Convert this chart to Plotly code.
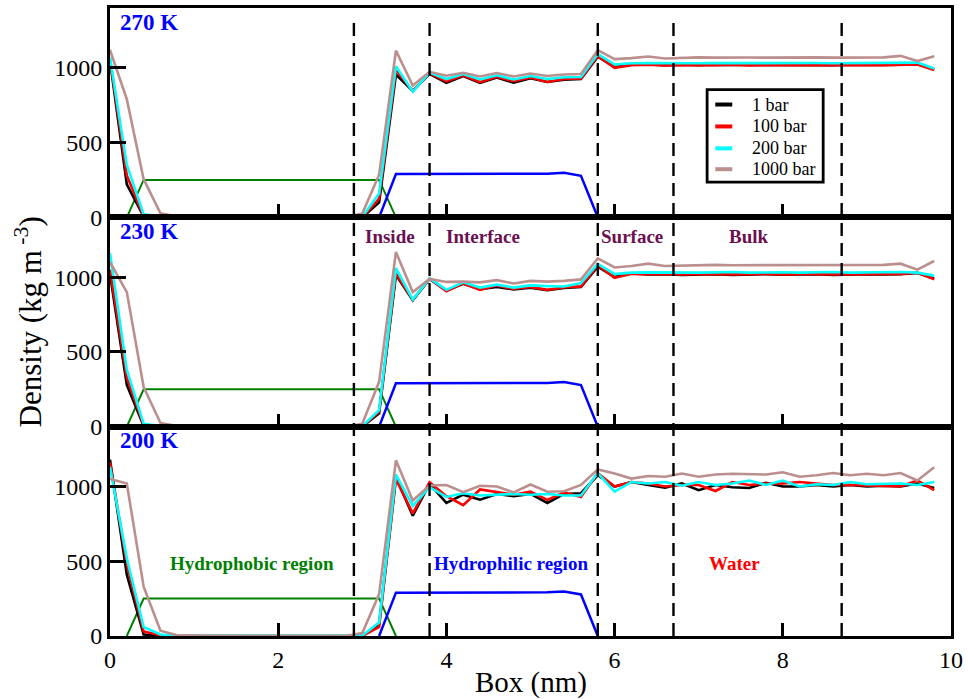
import plotly.graph_objects as go
from plotly.subplots import make_subplots

# ---------------- data ----------------
box_x = [0.0, 0.2, 0.4, 0.6, 0.8, 1.0, 1.2, 1.4, 1.6, 1.8,
         2.0, 2.2, 2.4, 2.6, 2.8, 3.0, 3.2, 3.4, 3.6, 3.8,
         4.0, 4.2, 4.4, 4.6, 4.8, 5.0, 5.2, 5.4, 5.6, 5.8,
         6.0, 6.2, 6.4, 6.6, 6.8, 7.0, 7.2, 7.4, 7.6, 7.8,
         8.0, 8.2, 8.4, 8.6, 8.8, 9.0, 9.2, 9.4, 9.6, 9.8]

pressures = ["1 bar", "100 bar", "200 bar", "1000 bar"]
temps = ["270 K", "230 K", "200 K"]

# 270 K
d270_1 = [1050, 220, 5, 0, 0, 0, 0, 0, 0, 0,
          0, 0, 0, 0, 0, 0, 100, 955, 845, 960,
          900, 945, 900, 935, 900, 930, 905, 920, 925, 1075,
          1005, 1020, 1022, 1018, 1020, 1017, 1020, 1019, 1018, 1020,
          1018, 1020, 1019, 1017, 1020, 1018, 1019, 1020, 1025, 990]
d270_100 = [1060, 280, 8, 0, 0, 0, 0, 0, 0, 0,
            0, 0, 0, 0, 0, 0, 125, 985, 845, 965,
            910, 950, 905, 940, 910, 935, 905, 925, 928, 1080,
            1000, 1018, 1020, 1015, 1018, 1016, 1018, 1020, 1016, 1018,
            1017, 1019, 1018, 1016, 1018, 1017, 1018, 1020, 1022, 985]
d270_200 = [1070, 350, 20, 5, 0, 0, 0, 0, 0, 0,
            0, 0, 0, 0, 0, 3, 160, 1010, 840, 968,
            925, 958, 922, 950, 922, 945, 925, 937, 938, 1092,
            1022, 1030, 1032, 1030, 1031, 1030, 1031, 1032, 1030, 1031,
            1030, 1031, 1032, 1030, 1031, 1030, 1031, 1032, 1035, 995]
d270_1000 = [1120, 790, 255, 27, 5, 0, 0, 0, 0, 0,
             0, 0, 0, 0, 0, 25, 285, 1115, 882, 973,
             947, 967, 942, 965, 942, 962, 945, 955, 958, 1118,
             1058, 1065, 1076, 1062, 1068, 1070, 1068, 1070, 1069, 1068,
             1070, 1069, 1070, 1068, 1070, 1069, 1070, 1080, 1045, 1078]

# 230 K
d230_1 = [1020, 280, 5, 0, 0, 0, 0, 0, 0, 0,
          0, 0, 0, 0, 0, 0, 90, 1015, 845, 988,
          910, 955, 920, 935, 918, 930, 912, 928, 935, 1070,
          1000, 1025, 1018, 1020, 1015, 1018, 1020, 1015, 1018, 1020,
          1016, 1018, 1020, 1015, 1018, 1020, 1018, 1020, 1028, 990]
d230_100 = [1050, 330, 10, 0, 0, 0, 0, 0, 0, 0,
            0, 0, 0, 0, 0, 0, 100, 1025, 848, 990,
            905, 958, 915, 945, 922, 935, 915, 932, 938, 1080,
            995, 1022, 1020, 1022, 1018, 1020, 1022, 1018, 1020, 1022,
            1018, 1020, 1022, 1018, 1020, 1022, 1020, 1022, 1030, 985]
d230_200 = [1160, 380, 20, 5, 0, 0, 0, 0, 0, 0,
            0, 0, 0, 0, 0, 3, 110, 1060, 850, 992,
            915, 965, 930, 950, 930, 945, 940, 937, 960, 1088,
            1020, 1030, 1032, 1030, 1033, 1030, 1032, 1034, 1030, 1032,
            1033, 1030, 1032, 1034, 1030, 1032, 1030, 1034, 1030, 1010]
d230_1000 = [1100, 900, 265, 25, 5, 0, 0, 0, 0, 0,
             0, 0, 0, 0, 0, 20, 300, 1168, 900, 988,
             968, 970, 965, 980, 958, 975, 970, 975, 985, 1125,
             1065, 1075, 1090, 1075, 1078, 1080, 1082, 1080, 1080, 1082,
             1080, 1082, 1080, 1078, 1082, 1080, 1082, 1090, 1050, 1108]

# 200 K
d200_1 = [1180, 410, 10, 0, 0, 0, 0, 0, 0, 0,
          0, 0, 0, 0, 0, 0, 80, 1060, 805, 1018,
          890, 945, 912, 950, 935, 950, 890, 950, 955, 1075,
          1000, 1030, 1010, 992, 1020, 975, 1010, 995, 990, 1025,
          1000, 1000, 1010, 1000, 1010, 1000, 1005, 1000, 1020, 990]
d200_100 = [1160, 480, 30, 5, 0, 0, 0, 0, 0, 0,
            0, 0, 0, 0, 0, 0, 60, 1050, 820, 1028,
            935, 875, 980, 960, 945, 965, 910, 960, 930, 1090,
            1000, 1030, 1020, 1000, 1010, 1010, 970, 1030, 1010, 1020,
            1020, 1030, 1020, 1010, 1010, 1005, 1000, 1000, 1040, 975]
d200_200 = [1130, 520, 60, 10, 0, 0, 0, 0, 0, 0,
            0, 0, 0, 0, 0, 3, 90, 1080, 870, 995,
            930, 955, 940, 945, 950, 945, 950, 940, 940, 1090,
            965, 1030, 1020, 1030, 1005, 1030, 1010, 1020, 1040, 1010,
            1040, 1000, 1015, 1010, 1030, 1015, 1020, 1020, 1010, 1030]
d200_1000 = [1050, 1020, 330, 35, 5, 0, 0, 0, 0, 0,
             0, 0, 0, 0, 0, 20, 280, 1175, 906, 1007,
             1010, 962, 1005, 1000, 960, 1013, 965, 968, 1010, 1114,
             1087, 1053, 1070, 1065, 1087, 1065, 1080, 1085, 1080, 1080,
             1095, 1065, 1075, 1090, 1075, 1085, 1075, 1090, 1040, 1128]

# hydrophobic / hydrophilic region profiles (same in every panel)
phobic_x = [0.2, 0.4, 3.2, 3.4]
phobic_y = [0, 250, 250, 0]
philic_x = [3.2, 3.4, 5.2, 5.4, 5.6, 5.8]
philic_y = [0, 290, 292, 298, 278, 0]

# region boundaries (nm)
boundaries = [2.9, 3.8, 5.8, 6.7, 8.7]

region_labels = ["Inside", "Interface", "Surface", "Bulk"]
region_label_x = [3.33, 4.43, 6.21, 7.6]

y_ticks = [0, 500, 1000]
x_ticks = [0, 2, 4, 6, 8, 10]

panels = [
    [d270_1, d270_100, d270_200, d270_1000],
    [d230_1, d230_100, d230_200, d230_1000],
    [d200_1, d200_100, d200_200, d200_1000],
]

# ---------------- styling ----------------
colors = ["#000000", "#ff0000", "#00ffff", "#bc8f8f"]
FONT = "Liberation Serif"
MAROON = "#6b0f4f"

fig = make_subplots(rows=3, cols=1, shared_xaxes=True, vertical_spacing=0)

for r, series in enumerate(panels, start=1):
    fig.add_trace(go.Scatter(x=phobic_x, y=phobic_y, mode="lines",
                             line=dict(color="#008000", width=2),
                             showlegend=False, hoverinfo="skip"), row=r, col=1)
    fig.add_trace(go.Scatter(x=philic_x, y=philic_y, mode="lines",
                             line=dict(color="#0000ff", width=2.5),
                             showlegend=False, hoverinfo="skip"), row=r, col=1)
    for name, ys, c in zip(pressures, series, colors):
        fig.add_trace(go.Scatter(x=box_x, y=ys, mode="lines", name=name,
                                 line=dict(color=c, width=2.6),
                                 showlegend=False),
                      row=r, col=1)

for r in range(1, 4):
    fig.update_yaxes(range=[0, 1400], tickvals=y_ticks, ticks="inside",
                     ticklen=16, tickwidth=3, tickcolor="black",
                     showline=True, linewidth=3, linecolor="black", mirror=True,
                     showgrid=False, zeroline=False,
                     tickfont=dict(family=FONT, size=24, color="black"),
                     row=r, col=1)
    fig.update_xaxes(range=[0, 10], tickvals=x_ticks, ticks="inside",
                     ticklen=13, tickwidth=3, tickcolor="black",
                     showline=True, linewidth=3, linecolor="black", mirror=True,
                     showgrid=False, zeroline=False,
                     showticklabels=(r == 3),
                     tickfont=dict(family=FONT, size=24, color="black"),
                     row=r, col=1)

# dashed region boundaries
for bx in boundaries:
    fig.add_shape(type="line", xref="x", yref="paper", x0=bx, x1=bx, y0=0, y1=0.985,
                  line=dict(color="black", width=2.4, dash="13px,7px"), layer="above")

# temperature labels
for r, t in enumerate(temps, start=1):
    yref = "y" if r == 1 else f"y{r}"
    xref = "x" if r == 1 else f"x{r}"
    fig.add_annotation(x=0.1, y=1305, xref=xref, yref=yref, text=f"<b>{t}</b>",
                       showarrow=False, xanchor="left", yanchor="middle",
                       font=dict(family=FONT, size=23, color="#0000ff"))

# region names in middle panel
for lab, lx in zip(region_labels, region_label_x):
    fig.add_annotation(x=lx, y=1270, xref="x2", yref="y2", text=f"<b>{lab}</b>",
                       showarrow=False, xanchor="center", yanchor="middle",
                       font=dict(family=FONT, size=19, color=MAROON))

# component names in bottom panel
for lab, lx, c in [("Hydrophobic region", 1.69, "#008000"),
                   ("Hydrophilic region", 4.77, "#0000ff"),
                   ("Water", 7.42, "#ff0000")]:
    fig.add_annotation(x=lx, y=485, xref="x3", yref="y3", text=f"<b>{lab}</b>",
                       showarrow=False, xanchor="center", yanchor="middle",
                       font=dict(family=FONT, size=19, color=c))

# legend (drawn in the top panel, paper coordinates)
leg_x0, leg_x1, leg_y0, leg_y1 = 0.710, 0.848, 0.7227, 0.870
fig.add_shape(type="rect", xref="paper", yref="paper",
              x0=leg_x0, x1=leg_x1, y0=leg_y0, y1=leg_y1,
              line=dict(color="black", width=2.8), fillcolor="white", layer="above")
leg_rows = [0.8463, 0.8114, 0.7765, 0.7433]
for name, c, ly in zip(pressures, colors, leg_rows):
    fig.add_shape(type="line", xref="paper", yref="paper",
                  x0=0.7197, x1=0.7399, y0=ly, y1=ly,
                  line=dict(color=c, width=4), layer="above")
    fig.add_annotation(x=0.7605, y=ly, xref="paper", yref="paper", text=name,
                       showarrow=False, xanchor="left", yanchor="middle",
                       font=dict(family=FONT, size=18, color="black"))

# axis titles
fig.add_annotation(x=-0.097, y=0.5, xref="paper", yref="paper",
                   text="Density (kg m<sup> -3</sup>)", textangle=-90,
                   showarrow=False, xanchor="center", yanchor="middle",
                   font=dict(family=FONT, size=31, color="black"))
fig.add_annotation(x=0.5, y=-0.074, xref="paper", yref="paper",
                   text="Box (nm)", showarrow=False, xanchor="center", yanchor="middle",
                   font=dict(family=FONT, size=29, color="black"))

fig.update_layout(
    width=968, height=699,
    margin=dict(l=110, r=16, t=5, b=63),
    paper_bgcolor="white", plot_bgcolor="white",
    showlegend=False,
)

fig.write_html("out.html")
